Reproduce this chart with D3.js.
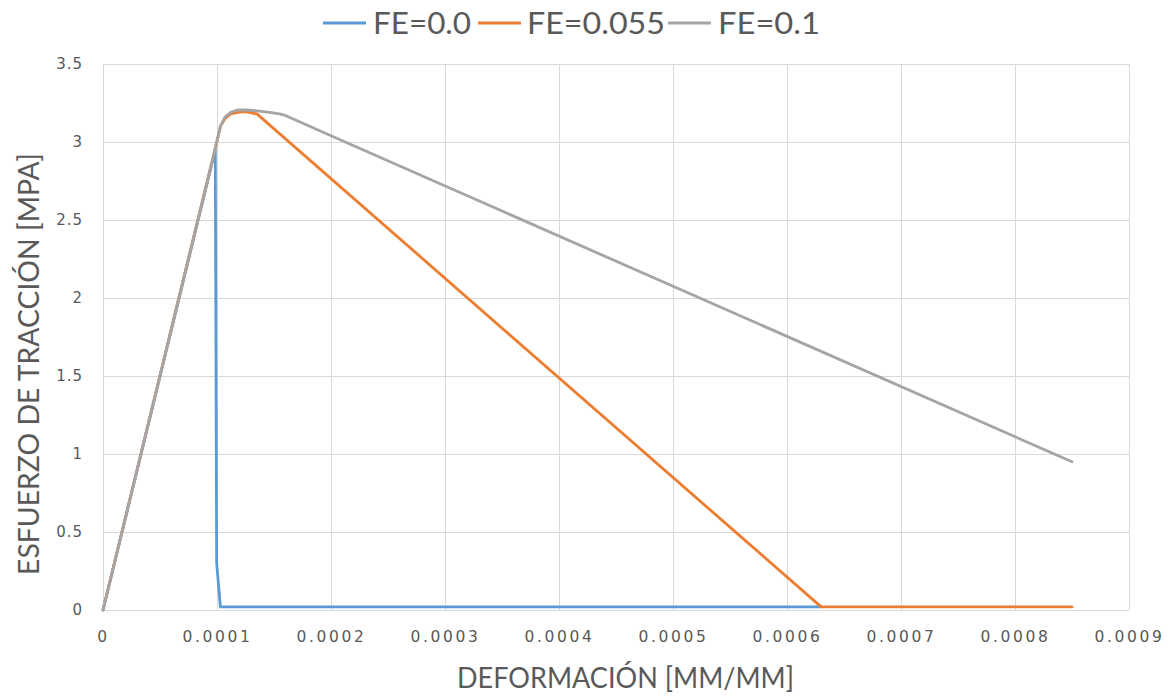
<!DOCTYPE html>
<html>
<head>
<meta charset="utf-8">
<script src="https://cdn.jsdelivr.net/npm/d3@7"></script>
<style>
  html, body { margin: 0; padding: 0; background: #fff; }
  svg { display: block; }
</style>
</head>
<body>
<div id="chart"></div>
<script>
// Tensile stress–strain curves for three fibre fractions
const seriesNames = ["FE=0.0", "FE=0.055", "FE=0.1"];
const seriesColors = ["#5B9BD5", "#ED7D31", "#A5A5A5"];

const strainFE00 = [0, 0.0000985, 0.0000997, 0.000103, 0.00014, 0.0002, 0.0003, 0.0004, 0.0005, 0.0006, 0.00063];
const stressFE00 = [0, 2.95, 0.3, 0.02, 0.02, 0.02, 0.02, 0.02, 0.02, 0.02, 0.02];

const strainFE055 = [0, 0.0000995, 0.000103, 0.000107, 0.000112, 0.000118, 0.000125, 0.000135, 0.00063, 0.00085];
const stressFE055 = [0, 2.99, 3.1, 3.15, 3.18, 3.19, 3.195, 3.18, 0.02, 0.02];

const strainFE01 = [0, 0.0000995, 0.000103, 0.000107, 0.000112, 0.000118, 0.000125, 0.000135, 0.000146, 0.000155, 0.00016, 0.0002, 0.00085];
const stressFE01 = [0, 2.99, 3.1, 3.16, 3.19, 3.205, 3.205, 3.2, 3.19, 3.18, 3.17, 3.04, 0.95];

const xTicks = [0, 0.0001, 0.0002, 0.0003, 0.0004, 0.0005, 0.0006, 0.0007, 0.0008, 0.0009];
const xTickLabels = ["0", "0.0001", "0.0002", "0.0003", "0.0004", "0.0005", "0.0006", "0.0007", "0.0008", "0.0009"];
const yTicks = [0, 0.5, 1, 1.5, 2, 2.5, 3, 3.5];
const yTickLabels = ["0", "0.5", "1", "1.5", "2", "2.5", "3", "3.5"];

const xTitle = "DEFORMACIÓN [MM/MM]";
const yTitle = "ESFUERZO DE TRACCIÓN [MPA]";

const W = 1170, H = 696;
const margin = { left: 103, right: W - 1129, top: 64, bottom: H - 610 };
const innerW = W - margin.left - margin.right;
const innerH = H - margin.top - margin.bottom;

const svg = d3.select("#chart").append("svg").attr("width", W).attr("height", H);
const g = svg.append("g").attr("transform", `translate(${margin.left},${margin.top})`);

const x = d3.scaleLinear().domain([0, 0.0009]).range([0, innerW]);
const y = d3.scaleLinear().domain([0, 3.5]).range([innerH, 0]);

const gridColor = "#D9D9D9";
const labelColor = "#595959";
const tickFont = "'DejaVu Sans', Verdana, sans-serif";
const titleFont = "Lato, 'Open Sans', sans-serif";

// Gridlines
g.append("g")
  .selectAll("line")
  .data(yTicks)
  .join("line")
  .attr("x1", 0).attr("x2", innerW)
  .attr("y1", d => Math.round(y(d)) + 0.5).attr("y2", d => Math.round(y(d)) + 0.5)
  .attr("stroke", gridColor).attr("stroke-width", 1);

g.append("g")
  .selectAll("line")
  .data(xTicks)
  .join("line")
  .attr("x1", d => Math.round(x(d)) + 0.5).attr("x2", d => Math.round(x(d)) + 0.5)
  .attr("y1", 0).attr("y2", innerH)
  .attr("stroke", gridColor).attr("stroke-width", 1);

// Axes (labels only; lines come from the grid)
const xAxis = g.append("g")
  .attr("transform", `translate(0,${innerH})`)
  .call(d3.axisBottom(x).tickValues(xTicks).tickFormat((d, i) => xTickLabels[i]).tickSize(0).tickPadding(21));
xAxis.select(".domain").remove();
xAxis.selectAll("text")
  .attr("fill", labelColor)
  .style("font-family", tickFont)
  .style("font-size", "15.5px")
  .style("letter-spacing", "2.6px");

const yAxis = g.append("g")
  .call(d3.axisLeft(y).tickValues(yTicks).tickFormat((d, i) => yTickLabels[i]).tickSize(0).tickPadding(20));
yAxis.select(".domain").remove();
yAxis.selectAll("text")
  .attr("fill", labelColor)
  .style("font-family", tickFont)
  .style("font-size", "15px")
  .style("letter-spacing", "1px");

// Curves
const seriesData = [
  d3.zip(strainFE00, stressFE00),
  d3.zip(strainFE055, stressFE055),
  d3.zip(strainFE01, stressFE01)
];

const line = d3.line().x(d => x(d[0])).y(d => y(d[1]));

g.append("g")
  .selectAll("path")
  .data(seriesData)
  .join("path")
  .attr("d", line)
  .attr("fill", "none")
  .attr("stroke", (d, i) => seriesColors[i])
  .attr("stroke-width", 2.8)
  .attr("stroke-linejoin", "round")
  .attr("stroke-linecap", "round");

// Axis titles
svg.append("text")
  .attr("x", 457).attr("y", 688)
  .attr("textLength", 337).attr("lengthAdjust", "spacingAndGlyphs")
  .attr("fill", labelColor)
  .style("font-family", titleFont)
  .style("font-size", "28px")
  .text(xTitle);

svg.append("text")
  .attr("transform", "translate(39,575) rotate(-90)")
  .attr("textLength", 422).attr("lengthAdjust", "spacingAndGlyphs")
  .attr("fill", labelColor)
  .style("font-family", titleFont)
  .style("font-size", "29px")
  .text(yTitle);

// Legend
const legendItems = [
  { lineX: 323, textX: 373, textW: 98 },
  { lineX: 478, textX: 527, textW: 138 },
  { lineX: 668, textX: 718, textW: 102 }
];
const legend = svg.append("g");
legend.selectAll("line")
  .data(seriesNames)
  .join("line")
  .attr("x1", (d, i) => legendItems[i].lineX)
  .attr("x2", (d, i) => legendItems[i].lineX + 43)
  .attr("y1", 23).attr("y2", 23)
  .attr("stroke", (d, i) => seriesColors[i])
  .attr("stroke-width", 3);
legend.selectAll("text")
  .data(seriesNames)
  .join("text")
  .attr("x", (d, i) => legendItems[i].textX)
  .attr("y", 34)
  .attr("textLength", (d, i) => legendItems[i].textW)
  .attr("lengthAdjust", "spacingAndGlyphs")
  .attr("fill", labelColor)
  .style("font-family", titleFont)
  .style("font-size", "30px")
  .text(d => d);
</script>
</body>
</html>
